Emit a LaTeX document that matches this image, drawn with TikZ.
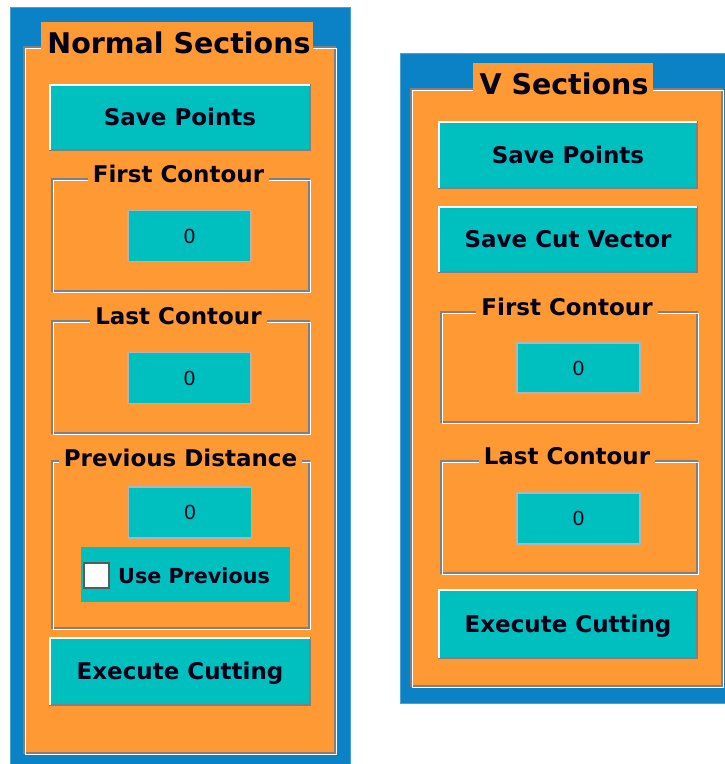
\documentclass[tikz,border=0pt]{standalone}
\usepackage{fontspec}
\setmainfont{DejaVu Sans}
\newfontfamily\digitfont{Liberation Sans}
\usepackage{tikz}
\usetikzlibrary{positioning}

\definecolor{panelblue}{RGB}{12,130,198}
\definecolor{formorange}{RGB}{255,153,51}
\definecolor{btncyan}{RGB}{0,191,191}
\definecolor{shadegrey}{RGB}{128,128,128}
\definecolor{inkblack}{RGB}{0,0,24}

\begin{document}
\begin{tikzpicture}[
    x=1pt, y=-1pt,
    panel/.style={
        rectangle,
        fill=panelblue,
        draw=panelblue!75!white,
        line width=0.8pt,
        inner sep=0pt,
        outer sep=0pt
    },
    form/.style={
        rectangle,
        fill=formorange,
        draw=shadegrey,
        line width=1.5pt,
        inner sep=0pt,
        outer sep=0pt
    },
    groupframe/.style={
        rectangle,
        draw=shadegrey,
        line width=1.5pt,
        minimum width=256pt,
        inner sep=0pt,
        outer sep=0pt
    },
    etchlight/.style={
        draw=white,
        line width=1.5pt
    },
    titlebg/.style={
        rectangle,
        fill=formorange,
        inner sep=0pt,
        outer sep=0pt
    },
    title/.style={
        font=\fontsize{28.5}{30}\selectfont\bfseries,
        text=inkblack,
        inner sep=0pt,
        text height=20.8pt,
        text depth=0pt
    },
    button/.style={
        rectangle,
        fill=btncyan,
        draw=shadegrey,
        line width=2pt,
        minimum width=258pt,
        minimum height=65pt,
        inner sep=0pt,
        outer sep=0pt,
        font=\fontsize{23}{24}\selectfont\bfseries,
        text=inkblack,
        text height=16.8pt,
        text depth=0pt
    },
    highlight/.style={
        draw=white,
        line width=2pt
    },
    editbox/.style={
        rectangle,
        fill=btncyan,
        draw=shadegrey!60!white,
        line width=1.2pt,
        minimum width=123pt,
        minimum height=51pt,
        inner sep=0pt,
        outer sep=0pt,
        font=\digitfont\fontsize{20.5}{22}\selectfont,
        text=inkblack,
        text height=14.7pt,
        text depth=0pt
    },
    grouptitle/.style={
        fill=formorange,
        inner xsep=5pt,
        inner ysep=2pt,
        font=\fontsize{23}{24}\selectfont\bfseries,
        text=inkblack,
        text height=16.8pt,
        text depth=0pt
    },
    checkpanel/.style={
        rectangle,
        fill=btncyan,
        minimum width=209pt,
        minimum height=55pt,
        inner sep=0pt,
        outer sep=0pt
    },
    checkbox/.style={
        rectangle,
        fill=white,
        draw=shadegrey!70!black,
        line width=2pt,
        minimum size=25pt,
        inner sep=0pt,
        outer sep=0pt
    },
    checklabel/.style={
        font=\fontsize{20.7}{22}\selectfont\bfseries,
        text=inkblack,
        inner sep=0pt,
        text height=15pt,
        text depth=0pt
    }
]
\useasboundingbox (0,0) rectangle (725,764);

% Normal sections panel
\node[panel, minimum width=340pt, minimum height=757pt] (leftpanel) at (180,385.5) {};
\node[form, minimum width=311pt, minimum height=706pt] (leftform) at (179.5,400) {};
\draw[etchlight] ([shift={(1.5,1.5)}]leftform.north west) rectangle ([shift={(1.5,1.5)}]leftform.south east);
\node[titlebg, minimum width=272pt, minimum height=35pt] (lefttitlebg) at (177,39.5) {};
\node[title] (lefttitle) at (179,43) {Normal Sections};

\node[button, minimum width=260pt] (savel) at (180,117.5) {Save Points};
\draw[highlight] (savel.south west) |- (savel.north east);

% first contour
\node[groupframe, minimum width=257pt, minimum height=112pt] (firstl) at (180.5,235) {};
\draw[etchlight] ([shift={(1.5,1.5)}]firstl.north west) rectangle ([shift={(1.5,1.5)}]firstl.south east);
\node[grouptitle] (firstltitle) at ([xshift=-2pt, yshift=4.5pt]firstl.north) {First Contour};
\node[editbox] (firstledit) at (189.5,236) {0};

% last contour
\node[groupframe, minimum width=257pt, minimum height=112pt] (lastl) at (180.5,377) {};
\draw[etchlight] ([shift={(1.5,1.5)}]lastl.north west) rectangle ([shift={(1.5,1.5)}]lastl.south east);
\node[grouptitle] (lastltitle) at ([xshift=-2pt, yshift=4.5pt]lastl.north) {Last Contour};
\node[editbox] (lastledit) at (189.5,378) {0};

% previous distance
\node[groupframe, minimum width=257pt, minimum height=167pt] (prevl) at (180.5,544.5) {};
\draw[etchlight] ([shift={(1.5,1.5)}]prevl.north west) rectangle ([shift={(1.5,1.5)}]prevl.south east);
\node[grouptitle] (prevltitle) at ([yshift=3pt]prevl.north) {Previous Distance};
\node[editbox] (prevledit) at (190,512.5) {0};
\node[checkpanel] (usepanel) at (185.5,574.5) {};
\node[checkbox] (usebox) at (96.5,575.5) {};
\node[checklabel, anchor=west] (uselabel) at (118,575.5) {Use Previous};

\node[button, minimum width=260pt, minimum height=67pt] (execl) at (180,671.5) {Execute Cutting};
\draw[highlight] (execl.south west) |- (execl.north east);

% V sections panel
\node[panel, minimum width=325pt, minimum height=650pt] (rightpanel) at (562.5,378) {};
\node[form, minimum width=311pt, minimum height=597pt] (rightform) at (566.5,387.5) {};
\draw[etchlight] ([shift={(1.5,1.5)}]rightform.north west) rectangle ([shift={(1.5,1.5)}]rightform.south east);
\node[titlebg, minimum width=180pt, minimum height=34pt] (righttitlebg) at (563,80) {};
\node[title] (righttitle) at (564,84) {V Sections};

\node[button, minimum height=66pt] (saver) at (568,155) {Save Points};
\draw[highlight] (saver.south west) |- (saver.north east);

\node[button] (cutr) at (568,239.5) {Save Cut Vector};
\draw[highlight] (cutr.south west) |- (cutr.north east);

% first contour
\node[groupframe, minimum height=110pt] (firstr) at (569,367) {};
\draw[etchlight] ([shift={(1.5,1.5)}]firstr.north west) rectangle ([shift={(1.5,1.5)}]firstr.south east);
\node[grouptitle] (firstrtitle) at ([xshift=-2pt, yshift=5pt]firstr.north) {First Contour};
\node[editbox, minimum height=50pt] (firstredit) at (578.5,368) {0};

% last contour
\node[groupframe, minimum height=112pt] (lastr) at (569,517) {};
\draw[etchlight] ([shift={(1.5,1.5)}]lastr.north west) rectangle ([shift={(1.5,1.5)}]lastr.south east);
\node[grouptitle] (lastrtitle) at ([xshift=-2pt, yshift=5pt]lastr.north) {Last Contour};
\node[editbox] (lastredit) at (578.5,518.5) {0};

\node[button, minimum height=68pt] (execr) at (568,624) {Execute Cutting};
\draw[highlight] (execr.south west) |- (execr.north east);

\end{tikzpicture}
\end{document}
